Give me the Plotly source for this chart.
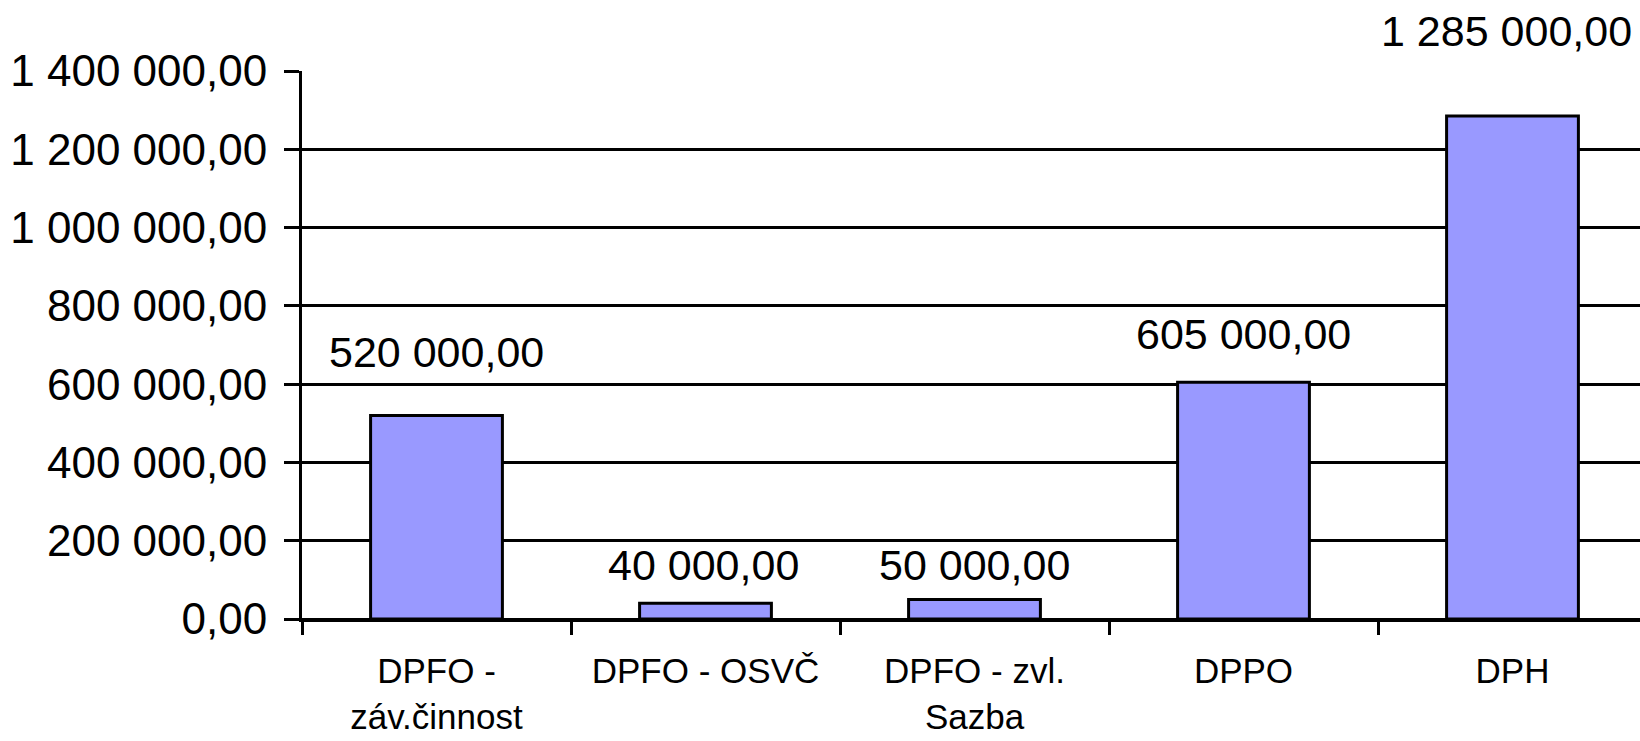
import plotly.graph_objects as go

categories = ["DPFO -<br>záv.činnost", "DPFO - OSVČ", "DPFO - zvl.<br>Sazba", "DPPO", "DPH"]
values = [520000, 40000, 50000, 605000, 1285000]
y_ticks = [0, 200000, 400000, 600000, 800000, 1000000, 1200000, 1400000]

def cz(v):
    return f"{v:,.2f}".replace(",", " ").replace(".", ",")

# label offsets above bar tops (pixels)
label_shift = [63, 38, 34, 48, 85]
label_xshift = [0, -2, 0, 0, -6]

fig = go.Figure()
fig.add_trace(go.Bar(
    x=categories, y=values,
    marker=dict(color="#9999FF", line=dict(color="black", width=3)),
    width=0.49,
))

for c, v, s, xs in zip(categories, values, label_shift, label_xshift):
    fig.add_annotation(x=c, y=v, text=cz(v), showarrow=False,
                       yanchor="middle", yshift=s, xshift=xs,
                       font=dict(family="Liberation Sans, Arial", size=43, color="black"))

fig.update_layout(
    width=1640, height=741,
    margin=dict(l=302, r=0, t=71, b=122, autoexpand=False),
    paper_bgcolor="white", plot_bgcolor="white",
    separators=", ",
    showlegend=False,
    font=dict(family="Liberation Sans, Arial", color="black"),
)
fig.update_xaxes(
    range=[-0.5, 4.474], automargin=False,
    showline=True, linecolor="black", linewidth=3,
    ticks="outside", ticklen=13, tickwidth=3, tickcolor="black",
    tickson="boundaries",
    showgrid=False,
    tickfont=dict(family="Liberation Sans Narrow, Arial Narrow, Liberation Sans", size=35, color="black"),
    ticklabelstandoff=19,
)
fig.update_yaxes(
    range=[0, 1400000], automargin=False,
    tickvals=y_ticks, ticktext=[cz(t) for t in y_ticks],
    showline=True, linecolor="black", linewidth=3,
    ticks="outside", ticklen=15, tickwidth=3, tickcolor="black",
    showgrid=True, gridcolor="black", gridwidth=3,
    zeroline=True, zerolinecolor="black", zerolinewidth=3,
    tickfont=dict(family="Liberation Sans, Arial", size=44, color="black"),
    ticklabelstandoff=8,
)

fig.write_html(
    "out.html",
    config={"displayModeBar": False},
    post_script="document.body.style.margin='0';document.body.style.padding='0';document.body.style.overflow='hidden';",
)
